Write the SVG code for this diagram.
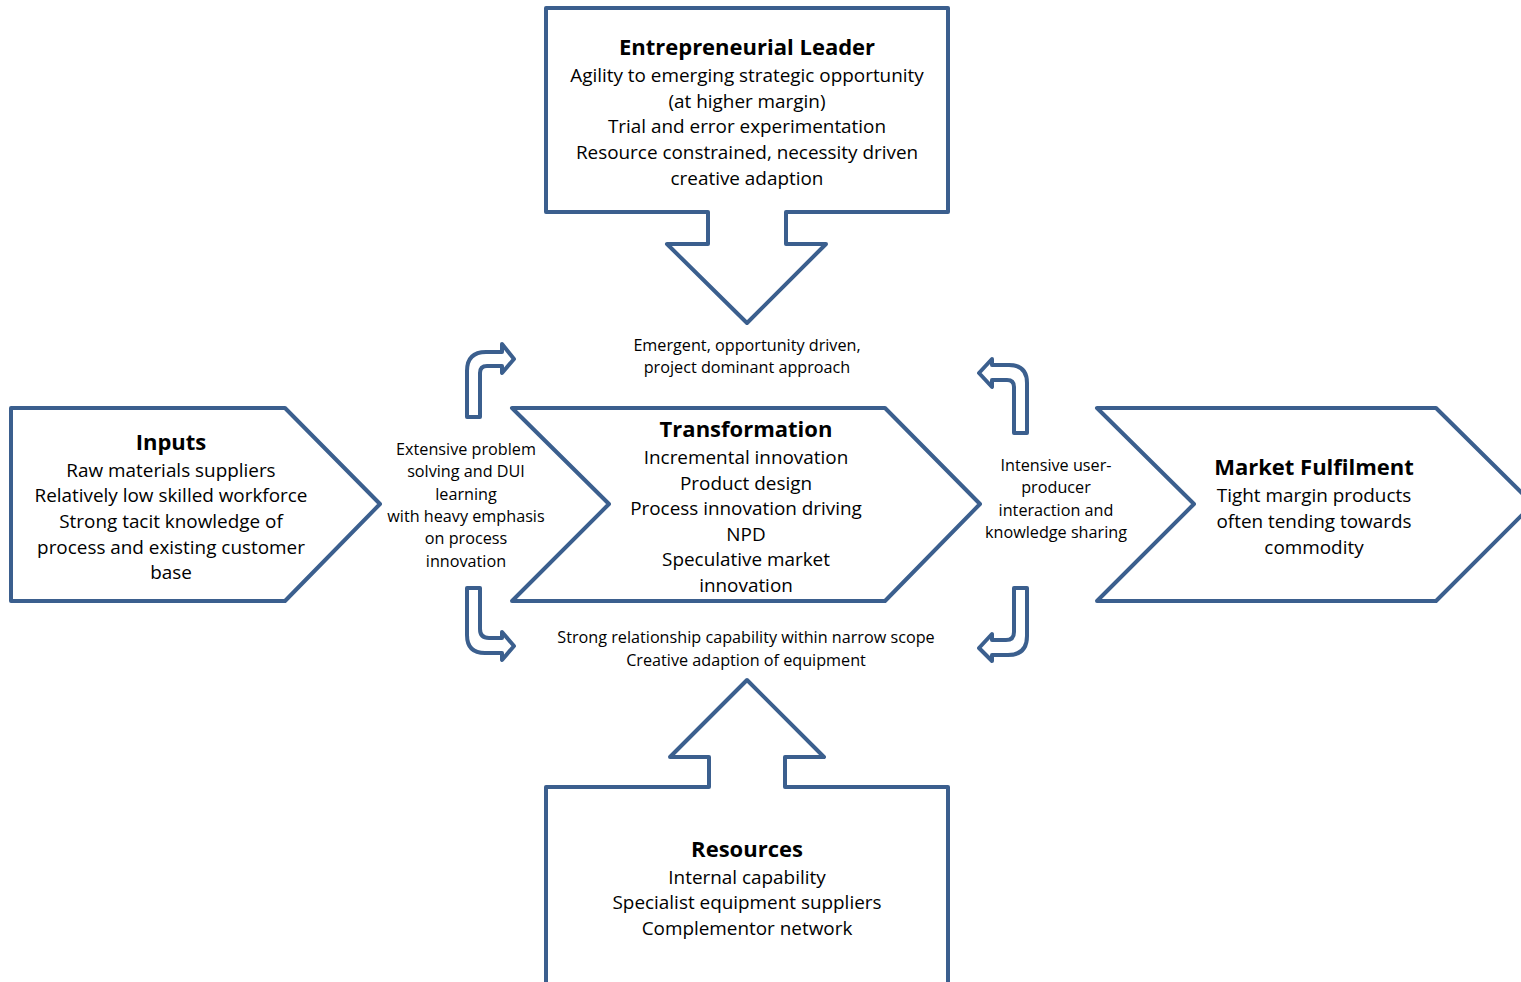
<svg xmlns="http://www.w3.org/2000/svg" width="1521" height="982" viewBox="0 0 1521 982">
<style>
.shape{fill:#fff;stroke:#3B5F8E;stroke-width:4;stroke-linejoin:round}
.bent{fill:#fff;stroke:#3B5F8E;stroke-width:4;stroke-linejoin:round}
text{font-family:"Open Sans","Liberation Sans",sans-serif;fill:#000;text-anchor:middle}
.t{font-size:22px;font-weight:bold}
.b{font-size:18.9px}
.s{font-size:16.2px}
</style>
<rect width="1521" height="982" fill="#fff"/>
<g id="leader">
<path class="shape" d="M546,8 L948,8 L948,212 L786,212 L786,244 L826,244 L747,323 L667,244 L708,244 L708,212 L546,212 Z"/>
<text class="t" x="747" y="55">Entrepreneurial Leader</text>
<text class="b" x="747" y="82">Agility to emerging strategic opportunity</text>
<text class="b" x="747" y="108">(at higher margin)</text>
<text class="b" x="747" y="133">Trial and error experimentation</text>
<text class="b" x="747" y="159">Resource constrained, necessity driven</text>
<text class="b" x="747" y="185">creative adaption</text>
</g>
<g id="resources">
<path class="shape" d="M546,990 L546,787 L709,787 L709,757 L670,757 L747,680 L824,757 L785,757 L785,787 L948,787 L948,990"/>
<text class="t" x="747" y="857">Resources</text>
<text class="b" x="747" y="884">Internal capability</text>
<text class="b" x="747" y="909">Specialist equipment suppliers</text>
<text class="b" x="747" y="935">Complementor network</text>
</g>
<g id="inputs">
<path class="shape" d="M11,408 L285,408 L380,504 L285,601 L11,601 Z"/>
<text class="t" x="171" y="450">Inputs</text>
<text class="b" x="171" y="477">Raw materials suppliers</text>
<text class="b" x="171" y="502">Relatively low skilled workforce</text>
<text class="b" x="171" y="528">Strong tacit knowledge of</text>
<text class="b" x="171" y="554">process and existing customer</text>
<text class="b" x="171" y="579">base</text>
</g>
<g id="transformation">
<path class="shape" d="M512,408 L885,408 L980,504 L885,601 L512,601 L609,504 Z"/>
<text class="t" x="746" y="437">Transformation</text>
<text class="b" x="746" y="464">Incremental innovation</text>
<text class="b" x="746" y="490">Product design</text>
<text class="b" x="746" y="515">Process innovation driving</text>
<text class="b" x="746" y="541">NPD</text>
<text class="b" x="746" y="566">Speculative market</text>
<text class="b" x="746" y="592">innovation</text>
</g>
<g id="market">
<path class="shape" d="M1097,408 L1436,408 L1533,504 L1436,601 L1097,601 L1194,504 Z"/>
<text class="t" x="1314" y="475">Market Fulfilment</text>
<text class="b" x="1314" y="502">Tight margin products</text>
<text class="b" x="1314" y="528">often tending towards</text>
<text class="b" x="1314" y="554">commodity</text>
</g>
<g id="connectors">
<path class="bent" d="M467,417 L467,371 Q467,352 486,352 L502,352 L502,344 L514,359 L502,373 L502,366 L487,366 Q480,366 480,373 L480,417 Z"/>
<path class="bent" d="M467,588 L480,588 L480,629 Q480,638 489,638 L502,638 L502,632 L514,646 L502,660 L502,653 L485,653 Q467,653 467,635 Z"/>
<path class="bent" d="M1027,433 L1027,383 Q1027,365 1009,365 L992,365 L992,359 L979,373 L992,387 L992,380 L1007,380 Q1014,380 1014,387 L1014,433 Z"/>
<path class="bent" d="M1014,588 L1027,588 L1027,636 Q1027,655 1008,655 L992,655 L992,661 L979,648 L992,634 L992,640 L1006,640 Q1014,640 1014,632 Z"/>
</g>
<g id="labels">
<text class="s" x="747" y="351">Emergent, opportunity driven,</text>
<text class="s" x="747" y="373">project dominant approach</text>
<text class="s" x="466" y="455">Extensive problem</text>
<text class="s" x="466" y="477">solving and DUI</text>
<text class="s" x="466" y="500">learning</text>
<text class="s" x="466" y="522">with heavy emphasis</text>
<text class="s" x="466" y="544">on process</text>
<text class="s" x="466" y="567">innovation</text>
<text class="s" x="1056" y="471">Intensive user-</text>
<text class="s" x="1056" y="493">producer</text>
<text class="s" x="1056" y="516">interaction and</text>
<text class="s" x="1056" y="538">knowledge sharing</text>
<text class="s" x="746" y="643">Strong relationship capability within narrow scope</text>
<text class="s" x="746" y="666">Creative adaption of equipment</text>
</g>
</svg>
